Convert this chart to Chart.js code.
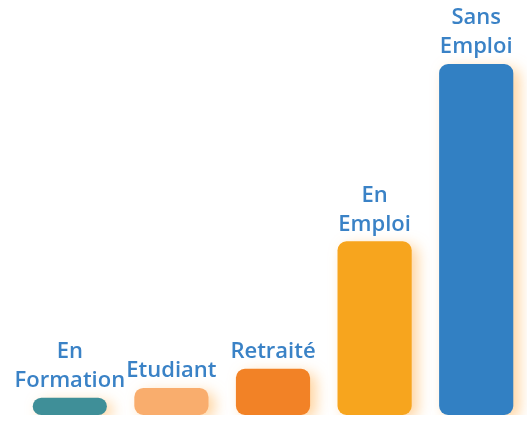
<!DOCTYPE html>
<html>
<head>
<meta charset="utf-8">
<script src="https://cdn.jsdelivr.net/npm/chart.js@4"></script>
<style>
	html, body { margin: 0; padding: 0; background: #fff; }
	#wrap { width: 527px; height: 421px; }
</style>
</head>
<body>
<div id="wrap"><canvas id="barChart"></canvas></div>
<script>
var categories = [["En", "Formation"], ["Etudiant"], ["Retraité"], ["En", "Emploi"], ["Sans", "Emploi"]];
var values = [2.8, 4.4, 7.5, 28.2, 57];
var barColors = ["#3f8f98", "#f9ad6d", "#f28226", "#f7a51e", "#3280c3"];

// shadow behind the bars
var shadowPlugin = {
	id: "barShadow",
	beforeDatasetsDraw: function (chart) {
		var ctx = chart.ctx;
		ctx.save();
		ctx.shadowColor = "rgba(255, 176, 80, 0.55)";
		ctx.shadowBlur = 14;
		ctx.shadowOffsetX = 6;
		ctx.shadowOffsetY = 4;
	},
	afterDatasetsDraw: function (chart) {
		chart.ctx.restore();
	}
};

// labels above each bar
var labelPlugin = {
	id: "topLabels",
	afterDatasetsDraw: function (chart) {
		var ctx = chart.ctx;
		var meta = chart.getDatasetMeta(0);
		ctx.save();
		ctx.fillStyle = "#3a82c6";
		ctx.font = "600 22px 'Open Sans'";
		ctx.textAlign = "center";
		ctx.textBaseline = "middle";
		meta.data.forEach(function (bar, i) {
			var lines = categories[i];
			for (var j = 0; j < lines.length; j++) {
				var y = bar.y - 17 - (lines.length - 1 - j) * 29;
				ctx.fillText(lines[j], bar.x, y);
			}
		});
		ctx.restore();
	}
};

var chart = new Chart(document.getElementById("barChart"), {
	type: "bar",
	data: {
		labels: categories,
		datasets: [{
			data: values,
			backgroundColor: barColors,
			borderRadius: 9,
			borderSkipped: false,
			barPercentage: 0.73,
			categoryPercentage: 1
		}]
	},
	options: {
		responsive: true,
		maintainAspectRatio: false,
		animation: false,
		layout: { padding: { left: 19, right: 0, top: 0, bottom: 6 } },
		plugins: {
			legend: { display: false },
			tooltip: { enabled: false }
		},
		scales: {
			x: { display: false },
			y: { display: false, min: 0, max: 67.4 }
		}
	},
	plugins: [shadowPlugin, labelPlugin]
});
</script>
</body>
</html>
